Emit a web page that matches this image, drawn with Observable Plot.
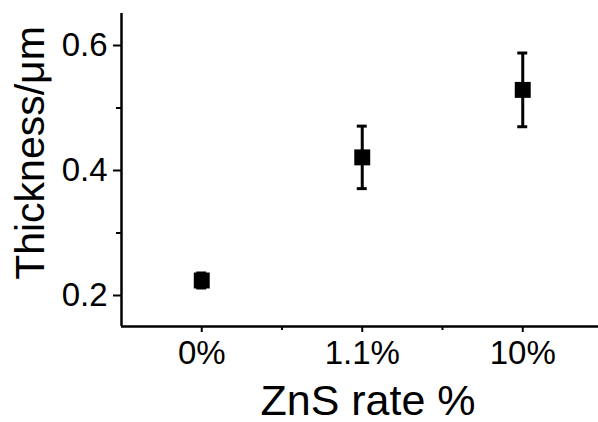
<!DOCTYPE html>
<html>
<head>
<meta charset="utf-8">
<script src="https://cdn.jsdelivr.net/npm/d3@7"></script>
<script src="https://cdn.jsdelivr.net/npm/@observablehq/plot@0.6"></script>
<style>
  html, body { margin: 0; padding: 0; background: #fff; }
  #chart svg { display: block; }
</style>
</head>
<body>
<div id="chart"></div>
<script>
// Data
const categories = ["0%", "1.1%", "10%"];
const thickness = [0.224, 0.421, 0.529];
const errors = [0.012, 0.05, 0.059];
const yTicks = [0.2, 0.4, 0.6];
const yMinorTicks = [0.3, 0.5];
const xMinorTicks = [0.5, 1.5];
const xDomain = [-0.5, 2.472];
const yDomain = [0.1504, 0.6512];
const xTitle = "ZnS rate %";
const yTitle = "Thickness/μm";

const data = categories.map((c, i) => ({i, c, v: thickness[i], e: errors[i]}));

const capHalf = 0.031;
const font = "'Liberation Sans', Arial, Helvetica, sans-serif";

const chart = Plot.plot({
  width: 598,
  height: 422,
  marginLeft: 121,
  marginRight: 0,
  marginTop: 13,
  marginBottom: 96,
  style: {fontFamily: font, fontSize: "33px", background: "#fff", color: "#000"},
  x: {type: "linear", domain: xDomain, axis: null},
  y: {type: "linear", domain: yDomain, axis: null},
  marks: [
    // axes lines
    Plot.ruleX([xDomain[0]], {stroke: "#000", strokeWidth: 2.5}),
    Plot.ruleY([yDomain[0]], {stroke: "#000", strokeWidth: 2.5}),
    // y axis major ticks & labels
    Plot.axisY({ticks: yTicks, tickSize: 8, tickPadding: 6, tickFormat: d3.format(".1f"),
      strokeWidth: 2, label: null, anchor: "left"}),
    Plot.axisY({ticks: yMinorTicks, tickSize: 5, text: null, strokeWidth: 2, label: null, anchor: "left"}),
    // x axis major ticks & labels
    Plot.axisX({ticks: [0, 1, 2], tickSize: 6, tickPadding: 8, tickFormat: i => categories[i],
      strokeWidth: 2, label: null, anchor: "bottom"}),
    Plot.axisX({ticks: xMinorTicks, tickSize: 4, text: null, strokeWidth: 2, label: null, anchor: "bottom"}),
    // error bars
    Plot.ruleX(data, {x: "i", y1: d => d.v - d.e, y2: d => d.v + d.e, stroke: "#000", strokeWidth: 3}),
    Plot.ruleY(data, {y: d => d.v + d.e, x1: d => d.i - capHalf, x2: d => d.i + capHalf, stroke: "#000", strokeWidth: 3}),
    Plot.ruleY(data, {y: d => d.v - d.e, x1: d => d.i - capHalf, x2: d => d.i + capHalf, stroke: "#000", strokeWidth: 3}),
    // squares
    Plot.dot(data, {x: "i", y: "v", symbol: "square", r: 9, fill: "#000", stroke: "none"}),
    // titles
    Plot.text([xTitle], {frameAnchor: "bottom", textAnchor: "middle", lineAnchor: "bottom", dx: 8, dy: 88, fontSize: 43, fill: "#000"}),
    Plot.text([yTitle], {frameAnchor: "left", textAnchor: "middle", lineAnchor: "middle", rotate: -90, dx: -91, dy: -17, fontSize: 41, fill: "#000"})
  ]
});
document.getElementById("chart").appendChild(chart);
</script>
</body>
</html>
